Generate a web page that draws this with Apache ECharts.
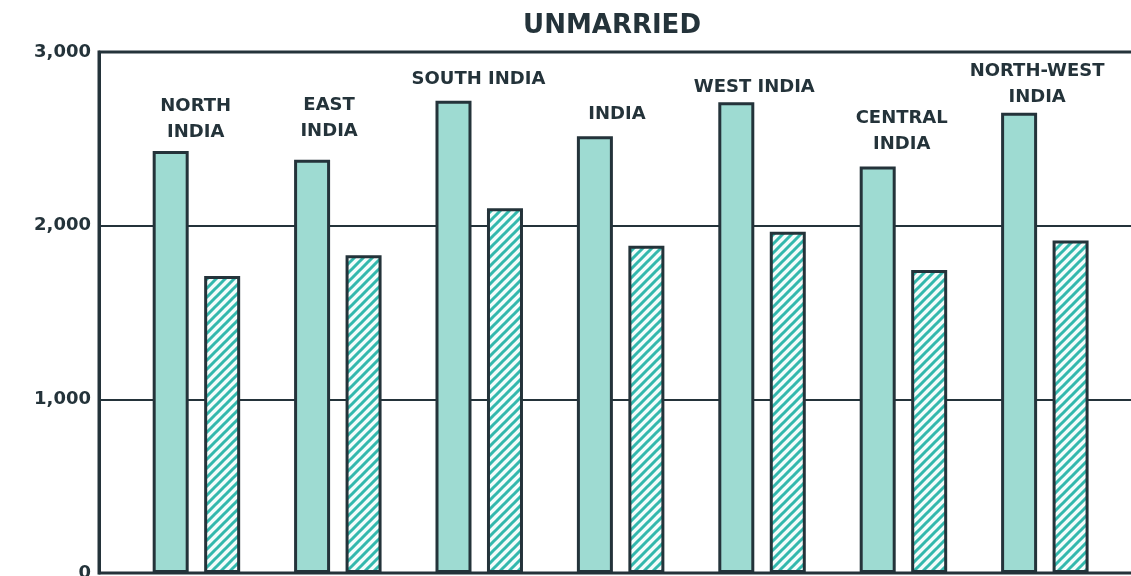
<!DOCTYPE html>
<html>
<head>
<meta charset="utf-8">
<script src="https://cdn.jsdelivr.net/npm/echarts@6/dist/echarts.min.js"></script>
<style>
  html, body { margin: 0; padding: 0; background: #fff; overflow: hidden; }
  #main { width: 1131px; height: 576px; }
</style>
</head>
<body>
<div id="main"></div>
<script>
  // regions, left to right
  var regions = ['NORTH\nINDIA', 'EAST\nINDIA', 'SOUTH INDIA', 'INDIA', 'WEST INDIA', 'CENTRAL\nINDIA', 'NORTH-WEST\nINDIA']
  // solid bars
  var solidValues = [2430, 2380, 2720, 2515, 2710, 2340, 2650]
  // hatched bars
  var hatchValues = [1710, 1830, 2100, 1885, 1965, 1745, 1915]
  var yTickLabels = ['0', '1,000', '2,000', '3,000']

  var dark = '#24333a'

  // diagonal stripes for the second series
  function hatch() {
    var c = document.createElement('canvas')
    c.width = 9
    c.height = 9
    var g = c.getContext('2d')
    g.fillStyle = '#f4fcfb'
    g.fillRect(0, 0, 9, 9)
    g.strokeStyle = '#33b8ad'
    g.lineWidth = 3
    g.beginPath()
    g.moveTo(-2, 11); g.lineTo(11, -2)
    g.moveTo(-2, 2); g.lineTo(2, -2)
    g.moveTo(7, 11); g.lineTo(11, 7)
    g.stroke()
    return c
  }

  // where each region name sits relative to its solid bar
  var labelOffsets = [[25, -6], [17, -15], [25, -8], [22, -9], [18, -2], [24, -9], [18, -2]]

  var chart = echarts.init(document.getElementById('main'))
  var option = {
    backgroundColor: '#fff',
    animation: false,
    title: {
      text: 'UNMARRIED',
      left: 607,
      top: 8,
      textAlign: 'center',
      textStyle: {
        color: dark,
        fontFamily: 'DejaVu Sans',
        fontWeight: 'bold',
        fontSize: 26
      }
    },
    grid: {
      left: 99,
      right: -10,
      top: 52,
      bottom: 3,
      containLabel: false,
      outerBoundsMode: 'none',
      show: true,
      borderColor: dark,
      borderWidth: 3,
      backgroundColor: 'transparent'
    },
    xAxis: {
      type: 'value',
      min: 0.311,
      max: 7.68,
      axisLine: { show: false },
      axisTick: { show: false },
      axisLabel: { show: false },
      splitLine: { show: false }
    },
    yAxis: {
      type: 'value',
      min: 0,
      max: 3000,
      interval: 1000,
      axisLine: { show: true, lineStyle: { color: dark, width: 3 } },
      axisTick: { show: false },
      axisLabel: {
        margin: 8,
        color: dark,
        fontFamily: 'DejaVu Sans',
        fontWeight: 'bold',
        fontSize: 18,
        formatter: function (v) { return yTickLabels[Math.round(v / 1000)] }
      },
      splitLine: { lineStyle: { color: dark, width: 2 } }
    },
    series: [
      {
        name: 'solid',
        type: 'bar',
        barWidth: 36,
        barGap: '43%',
        itemStyle: { color: '#9edbd2', borderColor: dark, borderWidth: 3 },
        label: {
          show: true,
          position: 'top',
          distance: 0,
          color: dark,
          fontFamily: 'DejaVu Sans',
          fontWeight: 'bold',
          fontSize: 18,
          lineHeight: 26,
          align: 'center'
        },
        data: solidValues.map(function (v, i) {
          return {
            value: [i + 1, v],
            label: { formatter: regions[i], offset: labelOffsets[i] }
          }
        })
      },
      {
        name: 'hatched',
        type: 'bar',
        barWidth: 36,
        barGap: '43%',
        itemStyle: {
          color: { image: hatch(), repeat: 'repeat' },
          borderColor: dark,
          borderWidth: 3
        },
        data: hatchValues.map(function (v, i) { return [i + 1, v] })
      }
    ]
  }
  chart.setOption(option)
</script>
</body>
</html>
